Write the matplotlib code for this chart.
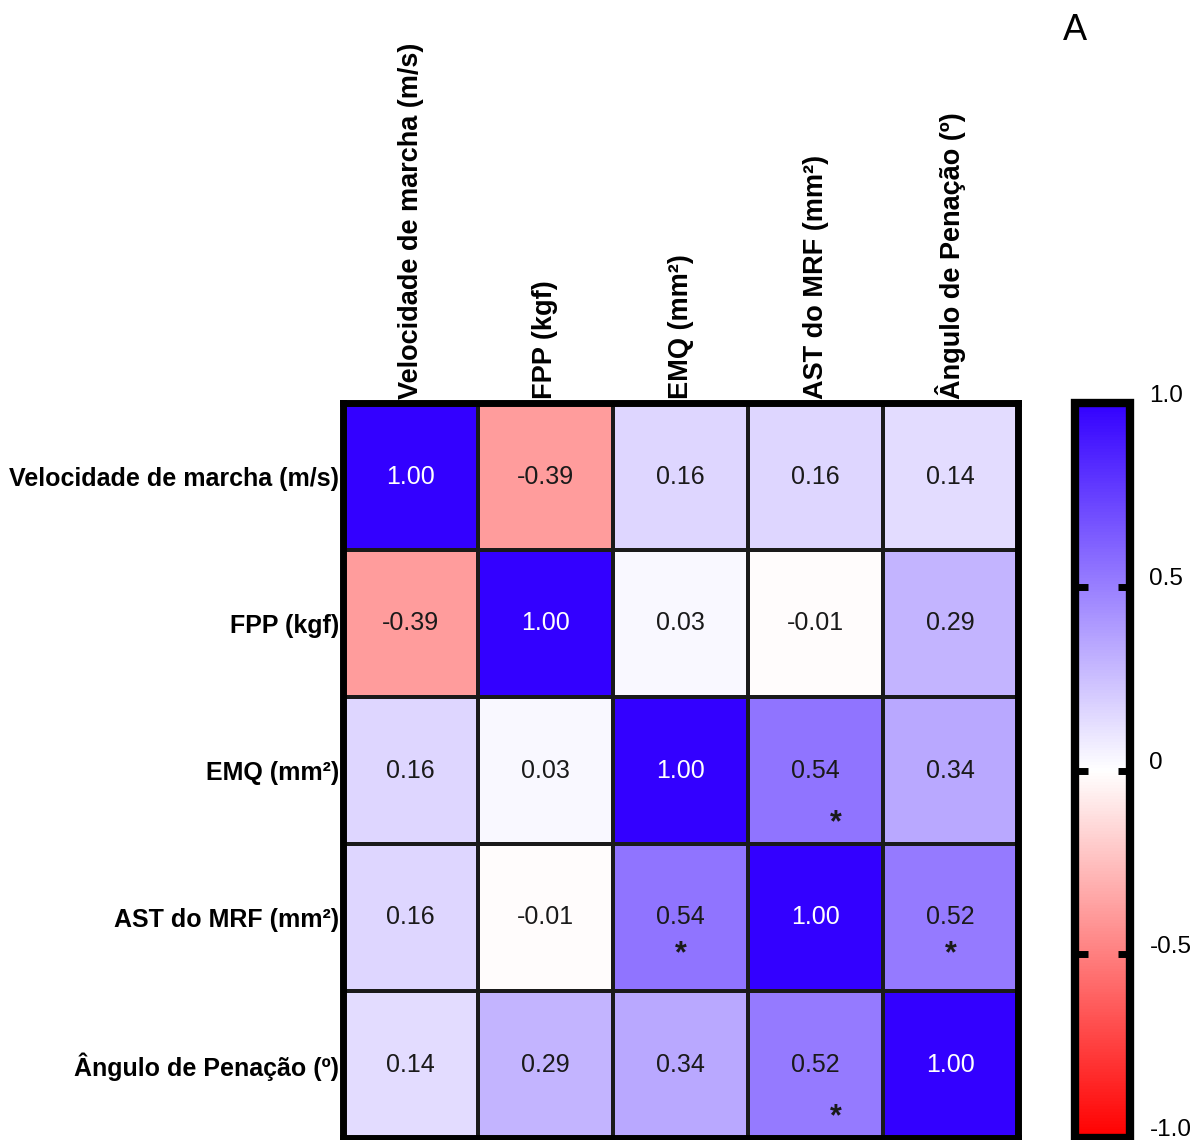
"""
Correlation heatmap (Spearman r) with significance stars
"""

import matplotlib
matplotlib.use('Agg')
import matplotlib.pyplot as plt
import numpy as np
from matplotlib.colors import LinearSegmentedColormap
from matplotlib.transforms import ScaledTranslation

plt.rcParams['font.family'] = ['Liberation Sans', 'DejaVu Sans']

VARIABLES = [
    'Velocidade de marcha (m/s)',
    'FPP (kgf)',
    'EMQ (mm²)',
    'AST do MRF (mm²)',
    'Ângulo de Penação (º)',
]
R_VALUES = [
    [1.00, -0.39, 0.16, 0.16, 0.14],
    [-0.39, 1.00, 0.03, -0.01, 0.29],
    [0.16, 0.03, 1.00, 0.54, 0.34],
    [0.16, -0.01, 0.54, 1.00, 0.52],
    [0.14, 0.29, 0.34, 0.52, 1.00],
]
# (row, col) of significant correlations
SIGNIFICANT = [(2, 3), (3, 2), (3, 4), (4, 3)]
CBAR_TICKS = [-1.0, -0.5, 0.0, 0.5, 1.0]
CBAR_LABELS = ['-1.0', '-0.5', '0', '0.5', '1.0']

# star placement inside the cell (x, y offsets in cell units), as drawn in the original
STAR_OFFSET = {(2, 3): (0.15, 0.36), (3, 2): (0.0, 0.25),
               (3, 4): (0.0, 0.25), (4, 3): (0.15, 0.36)}

cmap = LinearSegmentedColormap.from_list(
    'rwb', [(0.0, '#ff0000'), (0.5, '#ffffff'), (1.0, '#3300ff')])

if __name__ == '__main__':
    r = np.array(R_VALUES)
    n = len(VARIABLES)

    fig = plt.figure(figsize=(12, 11.4), dpi=100)
    ax = fig.add_axes([343/1200, 2/1140, 675/1200, 735/1140])
    im = ax.pcolormesh(np.arange(n+1), np.arange(n+1), r, cmap=cmap,
                       vmin=-1, vmax=1, edgecolors='#1a1a1a', linewidth=1.5)
    ax.set_xlim(0, n)
    ax.set_ylim(n, 0)

    for i in range(n):
        for j in range(n):
            val = r[i, j]
            ax.text(j + 0.5, i + 0.5, f'{val:.2f}', ha='center', va='center',
                    fontsize=18, color='white' if val > 0.8 else '#1a1a1a')
    for (i, j) in SIGNIFICANT:
        dx, dy = STAR_OFFSET[(i, j)]
        ax.text(j + 0.5 + dx, i + 0.5 + dy, '*', ha='center', va='center',
                fontsize=22, color='#1a1a1a', fontweight='bold')

    ax.set_xticks(np.arange(n) + 0.5)
    ax.set_yticks(np.arange(n) + 0.5)
    ax.set_xticklabels(VARIABLES, rotation=90, fontsize=19.5, fontweight='bold')
    ax.set_yticklabels(VARIABLES, fontsize=18, fontweight='bold')
    ax.xaxis.tick_top()
    ax.tick_params(length=0, pad=3)
    for spine in ax.spines.values():
        spine.set_linewidth(5)
        spine.set_color('black')

    cax = fig.add_axes([1075/1200, 2/1140, 55/1200, 735/1140])
    cb = fig.colorbar(im, cax=cax)
    cb.outline.set_linewidth(6)
    cb.set_ticks(CBAR_TICKS)
    cax.set_yticklabels(CBAR_LABELS, fontsize=17.5)
    cax.minorticks_off()
    cax.tick_params(axis='y', which='major', direction='in', length=9,
                    width=5, left=True, right=True, color='black', pad=14)
    offset = ScaledTranslation(0, 0.1, fig.dpi_scale_trans)
    for lab in cax.get_yticklabels():
        lab.set_transform(lab.get_transform() + offset)

    fig.text(1075/1200, 1 - 30/1140, 'A', fontsize=26, ha='center', va='center')

    fig.savefig('out.png', dpi=100)
